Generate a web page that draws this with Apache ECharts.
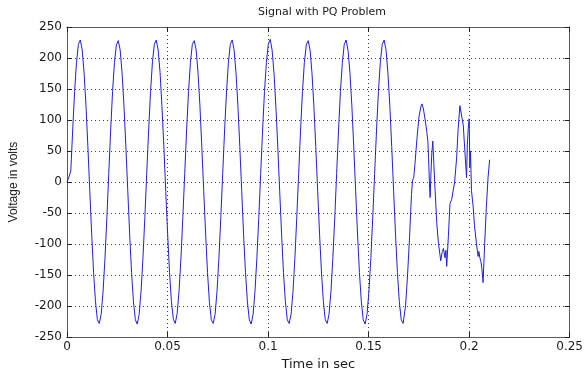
<!DOCTYPE html>
<html>
<head>
<meta charset="utf-8">
<script src="https://cdn.jsdelivr.net/npm/echarts@6/dist/echarts.min.js"></script>
<style>
html,body{margin:0;padding:0;background:#ffffff;}
#chart{width:586px;height:376px;}
</style>
</head>
<body>
<div id="chart"></div>
<script>
const chartTitle = 'Signal with PQ Problem';
const xAxisTitle = 'Time in sec';
const yAxisTitle = 'Voltage in volts';
const xTicks = [0, 0.05, 0.1, 0.15, 0.2, 0.25];
const yTicks = [-250, -200, -150, -100, -50, 0, 50, 100, 150, 200, 250];

// regular part of the signal: evenly spaced samples (seconds between samples)
const sampleStep = 0.0009445;
const regularVolts = [
  0, 8, 18, 84, 146, 193, 222, 229, 213, 176, 123, 57, -14, -84, -146, -193, -222, -228, -213, -176,
  -123, -57, 14, 84, 146, 193, 221, 228, 213, 176, 123, 57, -14, -84, -146, -193, -222, -229, -213, -176,
  -122, -57, 15, 84, 146, 194, 222, 229, 213, 177, 122, 57, -15, -84, -146, -193, -221, -228, -212, -176,
  -123, -57, 14, 85, 146, 193, 222, 228, 213, 176, 123, 56, -14, -84, -146, -194, -222, -228, -213, -176,
  -123, -57, 14, 84, 145, 193, 222, 229, 213, 176, 123, 57, -14, -85, -146, -193, -222, -229, -213, -176,
  -122, -57, 14, 84, 146, 193, 222, 230, 213, 176, 122, 57, -14, -84, -146, -193, -222, -228, -213, -177,
  -123, -57, 14, 84, 146, 193, 221, 228, 213, 176, 123, 57, -14, -84, -145, -193, -222, -228, -213, -176,
  -123, -58, 14, 84, 146, 193, 222, 229, 212, 176, 123, 57, -14, -84, -146, -193, -222, -229, -213, -176,
  -123, -57, 14, 84, 146, 193, 222, 229, 213, 176, 123, 57, -14, -84, -146, -193, -222, -228
];

// disturbed part (PQ problem) read point by point
const disturbedTime = [
  0.16839, 0.16938, 0.17036, 0.17135, 0.17184, 0.17249, 0.17308, 0.17406, 0.17505, 0.17604,
  0.17653, 0.17727, 0.17815, 0.17899, 0.17949, 0.17983, 0.18033, 0.18062, 0.18097, 0.18146,
  0.18195, 0.18245, 0.18309, 0.18393, 0.18476, 0.18540, 0.18590, 0.18664, 0.18723, 0.18802,
  0.18846, 0.18886, 0.18969, 0.19048, 0.19132, 0.19216, 0.19280, 0.19379, 0.19453, 0.19542,
  0.19601, 0.19709, 0.19788, 0.19872, 0.19911, 0.19956, 0.20005, 0.20035, 0.20069, 0.20118,
  0.20202, 0.20266, 0.20365, 0.20449, 0.20488, 0.20528, 0.20587, 0.20636, 0.20695, 0.20735,
  0.20774, 0.20858, 0.20942, 0.21021
];
const disturbedVolts = [
  -200, -150, -90, -20, 2, 8, 30, 70, 105, 122,
  126, 118, 100, 80, 65, 40, -9, -25, 10, 47,
  66, 30, -14, -67, -99, -115, -127, -112, -107, -122,
  -110, -136, -88, -35, -28, -25, 0, 39, 85, 123,
  120, 92, 50, 7, 60, 86, 102, 23, 50, -14,
  -40, -70, -99, -120, -112, -121, -128, -140, -162, -130,
  -99, -40, 7, 36
];

const points = [];
regularVolts.forEach((v, i) => points.push([i * sampleStep, v]));
disturbedTime.forEach((t, i) => points.push([t, disturbedVolts[i]]));

const font = '"DejaVu Sans", Arial, sans-serif';
const fontNarrow = '"Liberation Sans", Arial, sans-serif';
const frameColor = '#5a5a5a';
const textColor = '#1a1a1a';

const chart = echarts.init(document.getElementById('chart'), null, {renderer: 'canvas'});

function xAx(pos, main) {
  return {
    type: 'value', position: pos,
    min: xTicks[0], max: xTicks[xTicks.length - 1], interval: xTicks[1] - xTicks[0],
    axisLine: {show: true, onZero: false, lineStyle: {color: frameColor, width: 1}},
    axisTick: {show: true, inside: true, length: 5, lineStyle: {color: '#222', width: 1}},
    axisLabel: {show: main, color: textColor, fontSize: 12, fontFamily: font, margin: 4},
    splitLine: {show: main, lineStyle: {color: '#444', width: 1, type: [1, 3]}},
    name: main ? xAxisTitle : '', nameLocation: 'middle', nameGap: 18,
    nameTextStyle: {color: textColor, fontSize: 13, fontFamily: font}
  };
}
function yAx(pos, main) {
  return {
    type: 'value', position: pos,
    min: yTicks[0], max: yTicks[yTicks.length - 1], interval: yTicks[1] - yTicks[0],
    axisLine: {show: true, onZero: false, lineStyle: {color: frameColor, width: 1}},
    axisTick: {show: true, inside: true, length: 5, lineStyle: {color: '#222', width: 1}},
    axisLabel: {show: main, color: textColor, fontSize: 12, fontFamily: font, margin: 5},
    splitLine: {show: main, lineStyle: {color: '#444', width: 1, type: [1, 3]}},
    name: main ? yAxisTitle : '', nameLocation: 'middle', nameGap: 47,
    nameTextStyle: {color: textColor, fontSize: 12, fontFamily: fontNarrow}
  };
}

chart.setOption({
  backgroundColor: '#ffffff',
  animation: false,
  grid: {left: 67, right: 12, top: 27, bottom: 34, containLabel: false},
  graphic: [{
    type: 'text', x: 322, y: 12,
    style: {text: chartTitle, fill: textColor, font: '11px ' + font, textAlign: 'center', textVerticalAlign: 'middle'}
  }],
  xAxis: [xAx('bottom', true), xAx('top', false)],
  yAxis: [yAx('left', true), yAx('right', false)],
  series: [{
    type: 'line', xAxisIndex: 0, yAxisIndex: 0,
    data: points, showSymbol: false, symbol: 'none',
    lineStyle: {color: '#2020d8', width: 1}
  }]
});
</script>
</body>
</html>
